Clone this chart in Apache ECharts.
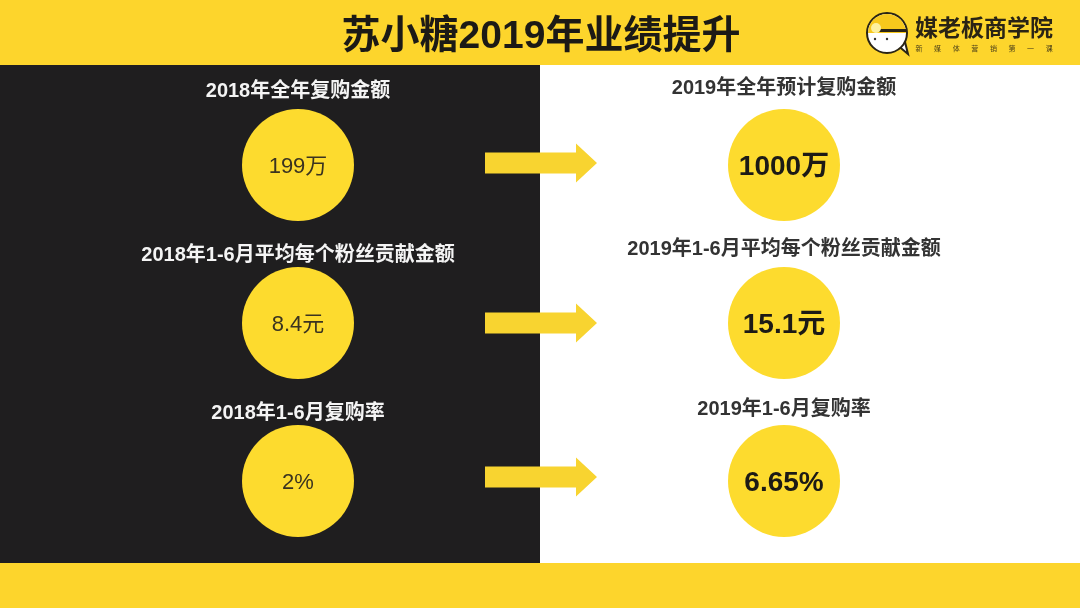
<!DOCTYPE html>
<html>
<head>
<meta charset="utf-8">
<style>html,body{margin:0;padding:0;background:#fff}#chart{width:1080px;height:608px}</style>
<script src="https://cdn.jsdelivr.net/npm/echarts@6/dist/echarts.min.js"></script>
</head>
<body>
<div id="chart"></div>
<script>
var chartTitle = '苏小糖2019年业绩提升';
var columns = ['2018', 'arrow', '2019'];
var rows = ['amount', 'perFan', 'rate'];

var titles2018 = ['2018年全年复购金额', '2018年1-6月平均每个粉丝贡献金额', '2018年1-6月复购率'];
var titles2019 = ['2019年全年预计复购金额', '2019年1-6月平均每个粉丝贡献金额', '2019年1-6月复购率'];
var values2018 = ['199万', '8.4元', '2%'];
var values2019 = ['1000万', '15.1元', '6.65%'];

// 标题相对圆心的上移量，原图每行不太一样
var titleOffset2018 = [-74, -68, -68];
var titleOffset2019 = [-77, -74, -72];
var arrowOffset = [-2, 0, -4];

var YELLOW = '#fdd52c';
var DARK = '#1f1e1f';
var FONT = '"Liberation Sans", "Noto Sans CJK SC", sans-serif';
var ARROW = 'path://M0 9H91V0L112 19.5L91 39V30H0Z';

var chart = echarts.init(document.getElementById('chart'));

function circleData(col, values) {
	return values.map(function(v, i) {
		return {value: [col, rows[i]], name: v};
	});
}

function titleData(col, titles, offsets, color) {
	return titles.map(function(t, i) {
		return {
			value: [col, rows[i]],
			name: t,
			label: {offset: [0, offsets[i]], color: color}
		};
	});
}

function titleSeries(data) {
	return {
		type: 'scatter',
		symbolSize: 1,
		itemStyle: {color: 'transparent', opacity: 1},
		label: {
			show: true,
			position: 'inside',
			fontFamily: FONT,
			fontSize: 20,
			fontWeight: 'bold',
			formatter: '{b}'
		},
		data: data
	};
}

// logo 部分，和数据无关
var logo = [
	{type: 'polygon', z: 10, shape: {points: [[896, 44], [908, 54], [904, 38]]}, style: {fill: '#fff', stroke: '#2a2415', lineWidth: 2}},
	{type: 'circle', z: 10, shape: {cx: 887, cy: 33, r: 20}, style: {fill: '#fff', stroke: '#2a2415', lineWidth: 2}},
	{type: 'sector', z: 11, shape: {cx: 887, cy: 33, r: 19, r0: 0, startAngle: Math.PI, endAngle: Math.PI * 2}, style: {fill: '#f7c81c'}},
	{type: 'rect', z: 12, shape: {x: 878, y: 29, width: 28, height: 3}, style: {fill: '#2a2415'}},
	{type: 'circle', z: 12, shape: {cx: 876, cy: 28, r: 5}, style: {fill: '#fdf0a0'}},
	{type: 'circle', z: 12, shape: {cx: 875, cy: 39, r: 1.2}, style: {fill: '#333'}},
	{type: 'circle', z: 12, shape: {cx: 887, cy: 39, r: 1.2}, style: {fill: '#333'}},
	{type: 'text', z: 12, style: {x: 915, y: 18, text: '媒老板商学院', fill: '#2a2415', font: 'bold 23px ' + FONT}}
];
'新媒体营销第一课'.split('').forEach(function(c, i) {
	logo.push({type: 'text', z: 12, style: {x: 919 + i * 18.6, y: 49, text: c, fill: '#4a3f1a', align: 'center', verticalAlign: 'middle', font: '7px ' + FONT}});
});

chart.setOption({
	animation: false,
	title: {
		text: chartTitle,
		left: 536,
		top: 13,
		textAlign: 'center',
		textStyle: {fontFamily: FONT, fontSize: 39, fontWeight: 'bold', color: '#1c1a16'}
	},
	grid: {left: 176.5, top: 86, width: 729, height: 474},
	xAxis: {type: 'category', data: columns, show: false},
	yAxis: {type: 'category', data: rows, inverse: true, show: false},
	graphic: [
		{type: 'rect', z: -1, shape: {x: 0, y: 65, width: 540, height: 498}, style: {fill: DARK}},
		{type: 'rect', z: -1, shape: {x: 0, y: 0, width: 1080, height: 65}, style: {fill: YELLOW}},
		{type: 'rect', z: -1, shape: {x: 0, y: 563, width: 1080, height: 45}, style: {fill: YELLOW}}
	].concat(logo),
	series: [
		{
			type: 'scatter',
			symbol: ARROW,
			symbolSize: [112, 39],
			itemStyle: {color: '#f8d430', opacity: 1},
			data: rows.map(function(r, i) {
				return {value: ['arrow', r], symbolOffset: [0, arrowOffset[i]]};
			})
		},
		{
			type: 'scatter',
			symbolSize: 112,
			itemStyle: {color: '#fddb2e', opacity: 1},
			label: {show: true, position: 'inside', offset: [0, 2], formatter: '{b}', fontFamily: FONT, fontSize: 22, color: '#3a3320'},
			data: circleData('2018', values2018)
		},
		{
			type: 'scatter',
			symbolSize: 112,
			itemStyle: {color: '#fddb2e', opacity: 1},
			label: {show: true, position: 'inside', offset: [0, 2], formatter: '{b}', fontFamily: FONT, fontSize: 28, fontWeight: 'bold', color: '#1c1a16'},
			data: circleData('2019', values2019)
		},
		titleSeries(titleData('2018', titles2018, titleOffset2018, '#f4f4f4')),
		titleSeries(titleData('2019', titles2019, titleOffset2019, '#333333'))
	]
});
</script>
</body>
</html>
